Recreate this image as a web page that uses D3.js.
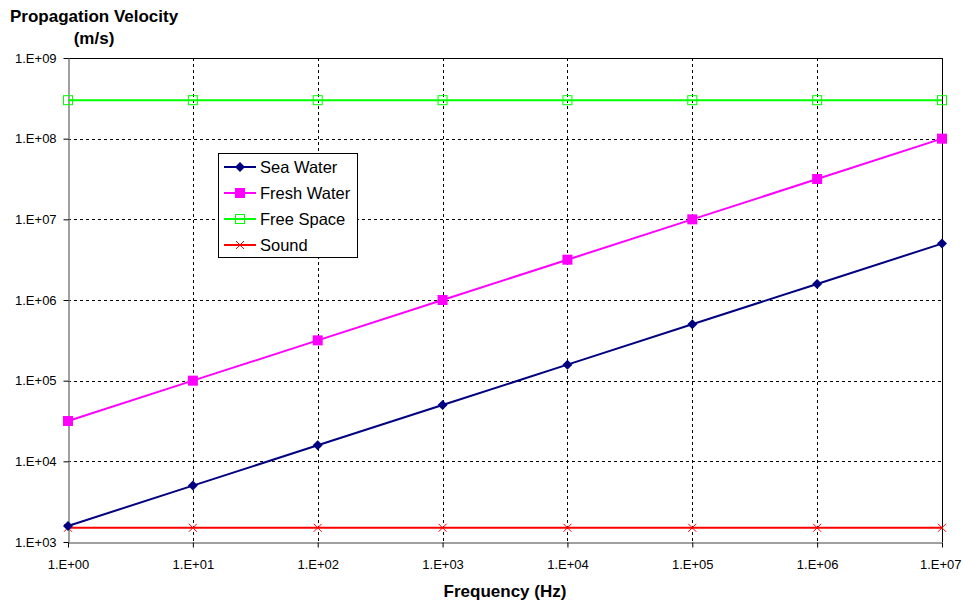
<!DOCTYPE html>
<html>
<head>
<meta charset="utf-8">
<script src="https://cdn.jsdelivr.net/npm/d3@7"></script>
<style>
  body { margin: 0; background: #fff; }
  svg { display: block; font-family: "Liberation Sans", Arial, sans-serif; }
</style>
</head>
<body>
<svg id="chart" width="963" height="608"></svg>
<script>
// Frequency (Hz) sample points
const frequencies = [1e0, 1e1, 1e2, 1e3, 1e4, 1e5, 1e6, 1e7];
// Propagation velocity (m/s) per medium
const seaWater   = [1.58e3, 5.0e3, 1.58e4, 5.0e4, 1.58e5, 5.0e5, 1.58e6, 5.0e6];
const freshWater = [3.16e4, 1.0e5, 3.16e5, 1.0e6, 3.16e6, 1.0e7, 3.16e7, 1.0e8];
const freeSpace  = [3.0e8, 3.0e8, 3.0e8, 3.0e8, 3.0e8, 3.0e8, 3.0e8, 3.0e8];
const sound      = [1.5e3, 1.5e3, 1.5e3, 1.5e3, 1.5e3, 1.5e3, 1.5e3, 1.5e3];
const xTicks = [1e0, 1e1, 1e2, 1e3, 1e4, 1e5, 1e6, 1e7];
const yTicks = [1e3, 1e4, 1e5, 1e6, 1e7, 1e8, 1e9];
const seriesNames = ["Sea Water", "Fresh Water", "Free Space", "Sound"];

const series = [
  { name: seriesNames[0], values: seaWater,   color: "#000080", marker: "diamond" },
  { name: seriesNames[1], values: freshWater, color: "#FF00FF", marker: "square" },
  { name: seriesNames[2], values: freeSpace,  color: "#00FF00", marker: "hollow" },
  { name: seriesNames[3], values: sound,      color: "#FF0000", marker: "cross" }
];

const svg = d3.select("#chart");
const plotLeft = 68, plotRight = 942, plotTop = 58, plotBottom = 542;

const x = d3.scaleLog().domain([1e0, 1e7]).range([plotLeft, plotRight]);
const y = d3.scaleLog().domain([1e3, 1e9]).range([plotBottom, plotTop]);

const fmt = v => {
  const e = Math.round(Math.log10(v));
  return "1.E+" + String(e).padStart(2, "0");
};

// Dashed gridlines
const grid = svg.append("g");
grid.selectAll("line.vx").data(xTicks.slice(1, -1)).join("line")
  .attr("x1", d => Math.round(x(d)) + 0.5).attr("x2", d => Math.round(x(d)) + 0.5)
  .attr("y1", plotTop).attr("y2", plotBottom)
  .attr("stroke", "#000").attr("stroke-width", 1).attr("stroke-dasharray", "3,3");
grid.selectAll("line.hy").data(yTicks.slice(1, -1)).join("line")
  .attr("x1", plotLeft).attr("x2", plotRight)
  .attr("y1", d => Math.round(y(d)) + 0.5).attr("y2", d => Math.round(y(d)) + 0.5)
  .attr("stroke", "#000").attr("stroke-width", 1).attr("stroke-dasharray", "3,3");

// Plot frame: top and right in black
svg.append("line").attr("x1", plotLeft).attr("x2", plotRight + 0.5)
  .attr("y1", plotTop + 0.5).attr("y2", plotTop + 0.5).attr("stroke", "#000");
svg.append("line").attr("x1", plotRight + 0.5).attr("x2", plotRight + 0.5)
  .attr("y1", plotTop).attr("y2", plotBottom).attr("stroke", "#000");

// Axes
const xAxis = d3.axisBottom(x).tickValues(xTicks).tickFormat(fmt).tickSize(5).tickSizeOuter(0);
const yAxis = d3.axisLeft(y).tickValues(yTicks).tickFormat(fmt).tickSize(5).tickSizeOuter(0);

const gx = svg.append("g").attr("transform", `translate(0,${plotBottom + 0.5})`).call(xAxis);
const gy = svg.append("g").attr("transform", `translate(${plotLeft + 0.5},0)`).call(yAxis);
[gx, gy].forEach(g => {
  g.attr("font-size", null).attr("font-family", null);
  g.select(".domain").attr("stroke", "#808080").attr("stroke-width", 1.5);
  g.selectAll(".tick line").attr("stroke", "#000");
  g.selectAll(".tick text").attr("fill", "#000")
    .style("font-size", "13px")
    .style("font-family", "'Liberation Sans', Arial, sans-serif");
});
gx.selectAll(".tick text").attr("dy", "1.4em");
// keep the last frequency label inside the canvas edge
gx.selectAll(".tick text").filter(d => d === xTicks[xTicks.length - 1])
  .attr("text-anchor", "end").attr("x", 19);
gy.selectAll(".tick text").attr("dx", "-0.3em");

// Lines
const line = d3.line().x((d, i) => x(frequencies[i])).y(d => y(d));

function drawMarker(g, type, color, cx, cy) {
  if (type === "diamond") {
    g.append("path").attr("d", `M${cx},${cy - 5}L${cx + 5},${cy}L${cx},${cy + 5}L${cx - 5},${cy}Z`)
      .attr("fill", color);
  } else if (type === "square") {
    g.append("rect").attr("x", cx - 5).attr("y", cy - 5).attr("width", 10).attr("height", 10)
      .attr("fill", color);
  } else if (type === "hollow") {
    g.append("rect").attr("x", cx - 4.5).attr("y", cy - 4.5).attr("width", 9).attr("height", 9)
      .attr("fill", "none").attr("stroke", color).attr("stroke-width", 1);
  } else if (type === "cross") {
    g.append("path").attr("d", `M${cx - 4},${cy - 4}L${cx + 4},${cy + 4}M${cx - 4},${cy + 4}L${cx + 4},${cy - 4}`)
      .attr("stroke", color).attr("stroke-width", 1).attr("fill", "none");
  }
}

// Draw bottom-to-top so later series sit above
[series[3], series[2], series[1], series[0]].forEach(s => {
  const g = svg.append("g");
  g.append("path").datum(s.values).attr("d", line)
    .attr("fill", "none").attr("stroke", s.color).attr("stroke-width", 2);
  s.values.forEach((v, i) => drawMarker(g, s.marker, s.color, x(frequencies[i]), y(v)));
});

// Legend
const lg = svg.append("g");
lg.append("rect").attr("x", 218.5).attr("y", 153.5).attr("width", 139).attr("height", 104)
  .attr("fill", "#fff").attr("stroke", "#000").attr("stroke-width", 1);
const legendY = [167, 193, 219, 245];
series.forEach((s, i) => {
  const yy = legendY[i];
  lg.append("line").attr("x1", 224).attr("x2", 256).attr("y1", yy).attr("y2", yy)
    .attr("stroke", s.color).attr("stroke-width", 2);
  drawMarker(lg, s.marker, s.color, 240, yy);
  lg.append("text").attr("x", 260).attr("y", yy).attr("dy", "0.35em")
    .attr("font-size", 16.5).attr("fill", "#000").text(s.name);
});

// Titles
svg.append("text").attr("x", 10).attr("y", 22).attr("font-size", 17).attr("font-weight", "bold")
  .text("Propagation Velocity");
svg.append("text").attr("x", 94).attr("y", 44).attr("text-anchor", "middle")
  .attr("font-size", 17).attr("font-weight", "bold").text("(m/s)");
svg.append("text").attr("x", (plotLeft + plotRight) / 2).attr("y", 597).attr("text-anchor", "middle")
  .attr("font-size", 17).attr("font-weight", "bold").text("Frequency (Hz)");
</script>
</body>
</html>
